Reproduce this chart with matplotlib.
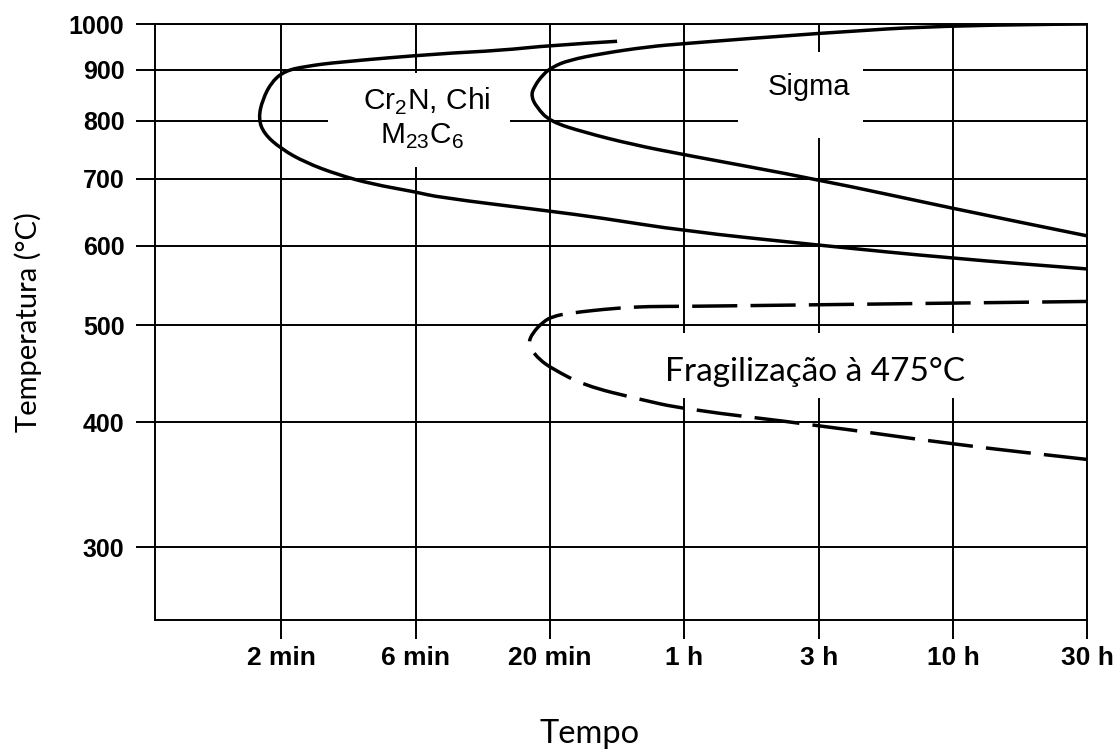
"""TTT diagram for duplex stainless steel: Cr2N/Chi/M23C6, Sigma and 475 °C embrittlement."""

import math

import matplotlib

matplotlib.use("Agg")
import matplotlib.pyplot as plt
from matplotlib.patches import PathPatch, Rectangle
from matplotlib.path import Path
from matplotlib.ticker import FixedLocator, NullLocator

plt.rcParams["mathtext.fontset"] = "custom"
plt.rcParams["mathtext.rm"] = "Liberation Sans"

# time axis: one evenly spaced slot per label
TIME_LABELS = ["2 min", "6 min", "20 min", "1 h", "3 h", "10 h", "30 h"]
TEMP_TICKS = [300, 400, 500, 600, 700, 800, 900, 1000]

# Cr2N / Chi / M23C6 (upper tip -> nose -> lower branch)
time_cr2n = [2.50, 2.00, 1.64, 1.17, 0.42, 0.18, 0.03, -0.07, -0.14, -0.17, -0.13, 0.00,
             0.18, 0.42, 0.67, 1.01, 1.17, 2.00, 2.38, 3.00, 4.00, 5.00, 6.00]
temp_cr2n = [961, 952, 941, 934, 916, 907, 898, 876, 840, 805, 777, 750,
             727, 707, 692, 679, 671, 650, 640, 621, 601, 583, 569]

# Sigma
time_sigma = [6.00, 5.00, 4.00, 3.00, 2.73, 2.38, 2.14, 2.02, 1.95, 1.88, 1.86, 1.90,
              2.00, 2.26, 2.61, 3.00, 4.00, 5.00, 6.00]
temp_sigma = [1000, 998, 979, 956, 949, 934, 920, 906, 891, 865, 847, 826,
              799, 779, 758, 740, 699, 654, 614]

# 475 °C embrittlement
time_475 = [6.00, 5.00, 4.00, 3.00, 2.73, 2.49, 2.14, 2.02, 1.95, 1.87, 1.84, 1.86,
            1.92, 2.02, 2.26, 2.65, 3.00, 4.00, 5.00, 6.00]
temp_475 = [528, 526, 524, 522, 522, 520, 514, 510, 504, 491, 480, 473,
            462, 452, 435, 422, 412, 397, 380, 367]

LABEL_FONT = "Liberation Sans"
NOTE_FONT = "Lato"


def _smooth_path(times, temps):
    """Quadratic B-spline through the measured points (midpoints taken in log T)."""
    verts = [(times[0], temps[0])]
    codes = [Path.MOVETO]
    for i in range(1, len(times) - 1):
        mid_t = (times[i] + times[i + 1]) / 2.0
        mid_T = 10 ** ((math.log10(temps[i]) + math.log10(temps[i + 1])) / 2.0)
        verts += [(times[i], temps[i]), (mid_t, mid_T)]
        codes += [Path.CURVE3, Path.CURVE3]
    verts.append((times[-1], temps[-1]))
    codes.append(Path.LINETO)
    return Path(verts, codes)


def _draw_curve(ax, times, temps, **style):
    patch = PathPatch(_smooth_path(times, temps), fill=False, edgecolor="black",
                      linewidth=2.5, capstyle="butt", joinstyle="round", zorder=3, **style)
    ax.add_patch(patch)


def main():
    fig = plt.figure(figsize=(11.2, 7.5), dpi=100)
    ax = fig.add_axes([0.1384, 0.1733, 0.8324, 0.7947])

    ax.set_yscale("log")
    ax.set_xlim(-0.94, 6)
    ax.set_ylim(253.6, 1000)

    xpos = list(range(len(TIME_LABELS)))
    ax.xaxis.set_major_locator(FixedLocator(xpos))
    ax.set_xticklabels(TIME_LABELS, fontsize=19, fontfamily=LABEL_FONT,
                       fontweight="bold")
    ax.yaxis.set_major_locator(FixedLocator(TEMP_TICKS))
    ax.yaxis.set_minor_locator(NullLocator())
    ax.set_yticklabels([str(t) for t in TEMP_TICKS], fontsize=18,
                       fontfamily=LABEL_FONT, fontweight="bold")
    ax.tick_params(axis="both", direction="out", length=14, width=1.4,
                   color="black")
    ax.tick_params(axis="x", pad=5)
    ax.tick_params(axis="y", pad=8)

    for side in ax.spines.values():
        side.set_linewidth(1.4)
        side.set_color("black")

    ax.set_axisbelow(True)
    ax.grid(True, color="black", linewidth=1.4)

    # white patches that break the grid behind the region labels
    boxes = [
        (0.1856, 0.7600, 0.1952, 0.1578),
        (0.6253, 0.8087, 0.1341, 0.1443),
        (0.5310, 0.3725, 0.3485, 0.1090),
    ]
    for x0, y0, w, h in boxes:
        ax.add_patch(Rectangle((x0, y0), w, h, transform=ax.transAxes,
                               facecolor="white", edgecolor="none", zorder=1.5))

    _draw_curve(ax, time_cr2n, temp_cr2n)
    _draw_curve(ax, time_sigma, temp_sigma)
    _draw_curve(ax, time_475, temp_475, linestyle=(0, (13, 3.8)))

    ax.text(0.2914, 0.8557, r"Cr$_\mathregular{2}$N, Chi", transform=ax.transAxes,
            ha="center", va="baseline", fontsize=21.5, fontfamily=LABEL_FONT, zorder=2)
    ax.text(0.2858, 0.7987, r"M$_\mathregular{23}$C$_\mathregular{6}$", transform=ax.transAxes,
            ha="center", va="baseline", fontsize=21.5, fontfamily=LABEL_FONT, zorder=2)
    ax.text(0.7015, 0.8809, "Sigma", transform=ax.transAxes,
            ha="center", va="baseline", fontsize=21, fontfamily=LABEL_FONT, zorder=2)
    ax.text(0.7080, 0.4015, "Fragilização à 475°C", transform=ax.transAxes,
            ha="center", va="baseline", fontsize=24, fontfamily=NOTE_FONT, zorder=2)

    fig.text(590 / 1120, 1 - 743 / 750, "Tempo", ha="center", va="baseline",
             fontsize=23.5, fontfamily=NOTE_FONT)
    fig.text(28 / 1120, 1 - 322 / 750, "Temperatura (°C)", ha="center", va="center",
             rotation=90, fontsize=21, fontfamily=NOTE_FONT)

    fig.savefig("out.png", dpi=100)
    plt.close(fig)


if __name__ == "__main__":
    main()
